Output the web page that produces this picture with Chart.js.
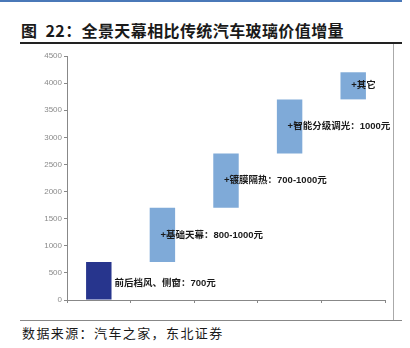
<!DOCTYPE html>
<html>
<head>
<meta charset="utf-8">
<script src="https://cdn.jsdelivr.net/npm/chart.js@4.4.1/dist/chart.umd.min.js"></script>
<style>
  html, body { margin: 0; padding: 0; background: #fff; }
  #wrap { position: relative; width: 410px; height: 348px; overflow: hidden; }
  #chart { position: absolute; left: 0; top: 0; }
  .line { position: absolute; }
  .txt { position: absolute; white-space: nowrap; font-family: "Noto Sans CJK SC", sans-serif; color: #1a1a1a; }
</style>
</head>
<body>
<div id="wrap">
  <div class="line" style="left:0;top:0;width:402px;height:2px;background:#4a78b8"></div>
  <div class="txt" id="title" style="left:21px;top:19px;font-size:16px;font-weight:bold;letter-spacing:0.4px;line-height:22px">图&nbsp;&nbsp;22：全景天幕相比传统汽车玻璃价值增量</div>
  <div class="line" style="left:20px;top:42px;width:382px;height:2px;background:#222"></div>
  <div class="line" style="left:393px;top:44px;width:1px;height:277px;background:#aaa"></div>
  <div class="line" style="left:20px;top:320px;width:382px;height:1px;background:#888"></div>
  <div class="txt" id="source" style="left:22px;top:324px;font-size:13px;letter-spacing:1.4px;line-height:18px">数据来源：汽车之家，东北证券</div>
  <canvas id="chart" width="410" height="348"></canvas>
</div>
<script>
// 카테고리 / 값
const categories = ["前后档风、侧窗", "基础天幕", "镀膜隔热", "智能分级调光", "其它"];
const barLow = [0, 700, 1700, 2700, 3700];
const barHigh = [700, 1700, 2700, 3700, 4200];
const barColors = ["#27358d", "#7faad8", "#7faad8", "#7faad8", "#7faad8"];
const labelTexts = ["前后档风、侧窗：700元", "+基础天幕：800-1000元", "+镀膜隔热：700-1000元", "+智能分级调光：1000元", "+其它"];
const labelValues = [300, 1200, 2200, 3200, 3950];
const yTicks = [0, 500, 1000, 1500, 2000, 2500, 3000, 3500, 4000, 4500];

// 막대 옆 텍스트
const barLabels = {
  id: "barLabels",
  afterDatasetsDraw(chart) {
    const ctx = chart.ctx;
    const meta = chart.getDatasetMeta(0);
    const y = chart.scales.y;
    ctx.save();
    ctx.font = "bold 9.5px 'Liberation Sans', 'Noto Sans CJK SC', sans-serif";
    ctx.fillStyle = "#1a1a1a";
    ctx.textBaseline = "middle";
    ctx.textAlign = "left";
    meta.data.forEach((bar, i) => {
      const x = i === 0 ? bar.x + bar.width / 2 + 3 : bar.x - 2;
      ctx.fillText(labelTexts[i], x, y.getPixelForValue(labelValues[i]));
    });
    ctx.restore();
  }
};

new Chart(document.getElementById("chart"), {
  type: "bar",
  data: {
    labels: categories,
    datasets: [{
      data: barLow.map((v, i) => [v, barHigh[i]]),
      backgroundColor: barColors,
      borderWidth: 0,
      barPercentage: 0.4,
      categoryPercentage: 1
    }]
  },
  options: {
    responsive: false,
    animation: false,
    layout: { padding: { left: 0, top: 56, right: 25, bottom: 0 } },
    plugins: { legend: { display: false }, tooltip: { enabled: false } },
    scales: {
      x: {
        grid: { display: true, offset: true, drawOnChartArea: false, drawTicks: true, tickLength: 3, color: "#888" },
        border: { display: true, color: "#888", width: 1 },
        ticks: { display: false },
        afterFit(scale) { scale.height = 48; }
      },
      y: {
        min: 0,
        max: 4500,
        afterBuildTicks(scale) { scale.ticks = yTicks.map(v => ({ value: v })); },
        grid: { display: true, drawOnChartArea: false, drawTicks: true, tickLength: 3, color: "#888" },
        border: { display: true, color: "#888", width: 1 },
        ticks: {
          color: "#8a8a8a",
          padding: 2,
          font: { family: "'Liberation Sans', Arial, sans-serif", size: 8 },
          callback: v => String(v)
        },
        afterFit(scale) { scale.width = 67; }
      }
    }
  },
  plugins: [barLabels]
});
</script>
</body>
</html>
